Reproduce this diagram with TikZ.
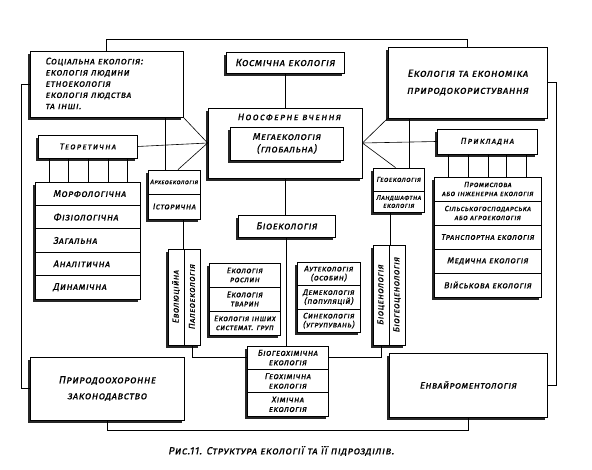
\documentclass[tikz,border=0pt]{standalone}
\usepackage{fontspec}
\newfontfamily\lf[Letters=SmallCaps,FakeSlant=0.18,FakeBold=0.6,LetterSpace=5]{Fira Sans}
\newfontfamily\lfw[Letters=SmallCaps,FakeSlant=0.18,FakeBold=0.6,LetterSpace=14]{Fira Sans}
\usetikzlibrary{shadows}
\begin{document}
\begin{tikzpicture}[x=1pt,y=-1pt,
  box/.style={draw,line width=0.8pt,fill=white,inner sep=1pt,align=center,
    drop shadow={shadow xshift=-2.5pt,shadow yshift=-3pt,fill=black!85,opacity=1}},
  plain/.style={inner sep=0pt,align=center},
  conn/.style={line width=0.6pt},
  f/.style 2 args={font=\lf\fontsize{#1}{#2}\selectfont},
  sz/.style 2 args={minimum width=#1pt,minimum height=#2pt},
  ]
\useasboundingbox (0,0) rectangle (592,470);
\fill[white] (0,0) rectangle (592,470);

% ---- top boxes
\node[box,sz={153}{66}] (soc) at (106.5,84) {};
\node[plain,align=left,anchor=north west,f={9.5}{11.2}] (socT) at (45,57.5)
  {Соціальна екологія:\\екологія людини\\етноекологія\\екологія людства\\та інші.};
\node[box,f={10.5}{12},sz={118}{21}] (cos) at (285,62.5) {Космічна екологія};
\node[box,f={10.5}{12},sz={159}{71}] (econ) at (467.5,82.5) {Екологія та економіка\\[5pt]природокористування};

% ---- noosphere
\node[box,sz={154}{70}] (noo) at (285,143) {};
\node[plain,font=\lfw\fontsize{9.5}{11}\selectfont] (nooT) at (289,117) {Ноосферне вчення};
\node[box,f={10}{12.5},sz={113}{33}] (meg) at (286.5,143.5) {Мегаекологія\\(глобальна)};
\node[box,f={10}{12},sz={97}{22}] (bio) at (286.5,226) {Біоекологія};

% ---- theoretical
\node[box,font=\lfw\fontsize{8.5}{10}\selectfont,sz={99}{23}] (teor) at (87.5,146.5) {Теоретична};
\foreach \n/\y/\t in {t1/193.7/Морфологічна,t2/217.1/Фізіологічна,t3/240.5/Загальна,t4/263.9/Аналітична,t5/287.3/Динамічна}
  \node[box,f={9.8}{11},minimum height=23.4pt,text width=69pt,inner xsep=18pt,align=left] (\n) at (87.5,\y) {\t};

% ---- archaeo / historical
\node[box,f={6.5}{7},sz={52}{24},inner xsep=0pt] (arch1) at (174,182) {Археоекологія};
\node[box,f={8.5}{10},sz={52}{25}] (arch2) at (174,206.5) {Історична};

% ---- evolution columns
\node[box,f={8.6}{10},sz={16}{96},inner sep=0pt] (evoB) at (192,297) {\rotatebox{90}{Палеоекологія}};
\node[box,f={8.6}{10},sz={16}{96},inner sep=0pt] (evoA) at (176,297) {\rotatebox{90}{Еволюційна}};

% ---- middle stacks
\node[box,f={8}{9},sz={71}{24}] (pl1) at (244.5,275) {Екологія\\рослин};
\node[box,f={8}{9},sz={71}{24}] (pl2) at (244.5,299) {Екологія\\тварин};
\node[box,f={7.8}{9},sz={71}{24},inner xsep=0pt] (pl3) at (244.5,323) {Екологія інших\\системат. груп};
\node[box,f={8}{9},sz={63}{23.5}] (au1) at (328.5,273.75) {Аутекологія\\(особин)};
\node[box,f={8}{9},sz={63}{23.5}] (au2) at (328.5,297.25) {Демекологія\\(популяцій)};
\node[box,f={8}{9},sz={63}{23.5}] (au3) at (328.5,320.75) {Синекологія\\(угрупувань)};
\node[box,f={8.5}{9.5},sz={81}{23.33}] (bgc1) at (287.5,357.67) {Біогеохімічна\\екологія};
\node[box,f={8.5}{9.5},sz={81}{23.33}] (bgc2) at (287.5,381) {Геохімічна\\екологія};
\node[box,f={8.5}{9.5},sz={81}{23.33}] (bgc3) at (287.5,404.33) {Хімічна\\екологія};

% ---- applied
\node[box,font=\lfw\fontsize{8.5}{10}\selectfont,sz={100}{25}] (prik) at (487,141.5) {Прикладна};
\node[box,f={7.5}{9},sz={107}{24},inner xsep=0pt] (ap1) at (487.5,189) {Промислова\\або інженерна екологія};
\node[box,f={7.5}{9},sz={107}{24},inner xsep=0pt] (ap2) at (487.5,213) {Сільськогосподарська\\або агроекологія};
\node[box,f={8.3}{10},sz={107}{24}] (ap3) at (487.5,237) {Транспортна екологія};
\node[box,f={8.8}{10},sz={107}{24}] (ap4) at (487.5,261) {Медична екологія};
\node[box,f={8.8}{10},sz={107}{24}] (ap5) at (487.5,285) {Військова екологія};

% ---- geo
\node[box,f={7.2}{8},sz={51}{23},inner xsep=0pt] (geo1) at (398.5,179.5) {Геоекологія};
\node[box,f={7}{8},sz={51}{21},inner xsep=0pt] (geo2) at (398.5,201.5) {Ландшафтна\\екологія};
\node[box,f={8.8}{10},sz={16}{100},inner sep=0pt] (bcB) at (397,295) {\rotatebox{90}{Біогеоценологія}};
\node[box,f={8.8}{10},sz={16}{100},inner sep=0pt] (bcA) at (381,295) {\rotatebox{90}{Біоценологія}};

% ---- bottom boxes
\node[box,f={10.3}{12},sz={154}{63}] (law) at (107,388.5) {Природоохоронне\\[4pt]законодавство};
\node[box,f={9.6}{12},sz={158}{64}] (env) at (468,385) {Енвайроментологія};

\node[plain,f={10.4}{12}] (cap) at (281,451) {Рис.11. Структура екології та її підрозділів.};

% ---- connectors
\draw[conn] (soc.north) -- ++(0,-11) -| (econ.north);
\draw[conn] (soc.west) -- ++(-8,0) |- (law.west);
\draw[conn] (econ.east) -- ++(9,0) |- (env.east);
\draw[conn] (law.south) -- ++(0,10) -| (env.south);
\draw[conn] (cos.south) -- (noo.north);
\draw[conn] (soc.south east) -- (noo.west);
\draw[conn] (teor.east) -- (noo.west);
\draw[conn] ([xshift=4pt]arch1.north) -- (noo.west);
\draw[conn] ([xshift=-9pt]arch1.north) -- ([xshift=-9pt]arch1.north |- soc.south);
\draw[conn] (econ.south west) -- (noo.east);
\draw[conn] (noo.east) -- (prik.west);
\draw[conn] ([xshift=-3pt]geo1.north) -- (noo.east);
\draw[conn] ([xshift=10.5pt]geo1.north) -- ([xshift=10.5pt]geo1.north |- econ.south);
\draw[conn] (noo.south) -- (noo.south |- bio.north);
\draw[conn] (bio.south) -- (bio.south |- bgc1.north);
\foreach \x in {49,68,88,108,127}
  \draw[conn] (teor.south -| \x,0) -- (t1.north -| \x,0);
\foreach \x in {448,468,488,506,526}
  \draw[conn] (prik.south -| \x,0) -- (ap1.north -| \x,0);
\draw[conn] ([xshift=9pt]arch2.south) -- ([xshift=9pt]arch2.south |- evoB.north);
\draw[conn] (evoB.south) -- (evoB.south |- bgc1.west) -- (bgc1.west);
\draw[conn] ([xshift=-8.5pt]geo2.south) -- ([xshift=-8.5pt]geo2.south |- bcA.north);
\draw[conn] (bcA.south) -- (bcA.south |- bgc1.east) -- (bgc1.east);
\end{tikzpicture}
\end{document}
